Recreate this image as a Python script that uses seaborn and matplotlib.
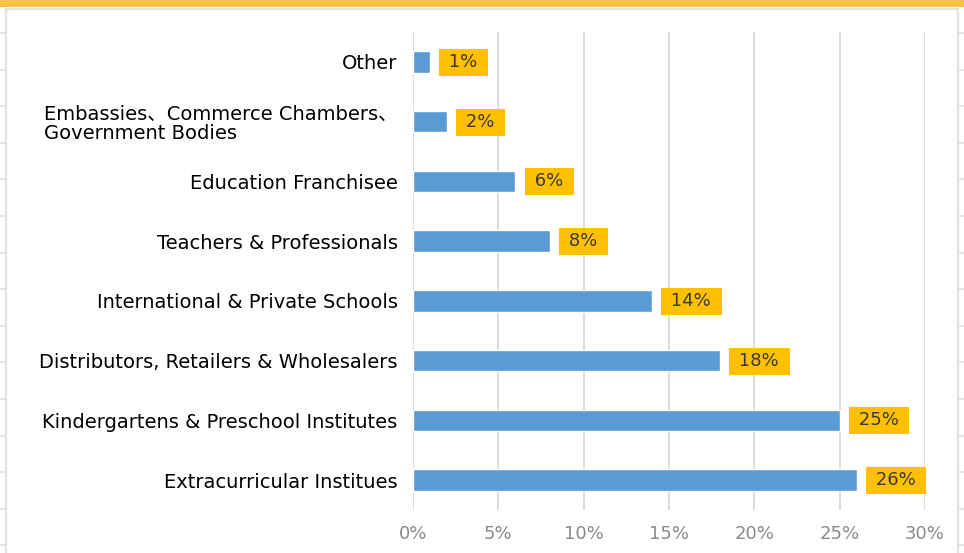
import numpy as np
import matplotlib
matplotlib.use("Agg")
import matplotlib.pyplot as plt
import seaborn as sns
from matplotlib.patches import Rectangle
from matplotlib.lines import Line2D

categories = [
    "Other",
    "Embassies、Commerce Chambers、\nGovernment Bodies",
    "Education Franchisee",
    "Teachers & Professionals",
    "International & Private Schools",
    "Distributors, Retailers & Wholesalers",
    "Kindergartens & Preschool Institutes",
    "Extracurricular Institues",
]
values = [1, 2, 6, 8, 14, 18, 25, 26]
x_ticks = [0, 5, 10, 15, 20, 25, 30]
x_tick_labels = ["0%", "5%", "10%", "15%", "20%", "25%", "30%"]

sns.set_theme(style="white")
plt.rcParams["font.family"] = ["DejaVu Sans", "Noto Sans CJK SC"]

W, H = 964, 553
fig = plt.figure(figsize=(W / 100, H / 100), dpi=100)
fig.patch.set_facecolor("white")

# decorative screenshot frame
fig.patches.append(Rectangle((0, 1 - 7 / H), 1, 7 / H, transform=fig.transFigure,
                             facecolor="#F5C244", edgecolor="none", zorder=0))
fig.patches.append(Rectangle((6 / W, -0.01), (958 - 6) / W, 1 - 9 / H + 0.01,
                             transform=fig.transFigure, facecolor="none",
                             edgecolor="#e2e2e2", lw=1.6, zorder=0))
for yy in np.arange(33, H, 36.6):
    fig.lines.append(Line2D([0, 6 / W], [1 - yy / H] * 2, transform=fig.transFigure,
                            color="#e0e0e0", lw=1.2))
    fig.lines.append(Line2D([958 / W, 964 / W], [1 - yy / H] * 2, transform=fig.transFigure,
                            color="#e0e0e0", lw=1.2))

ax = fig.add_axes([413 / W, 1 - 510 / H, (925 - 413) / W, (510 - 32) / H])
sns.barplot(x=values, y=categories, orient="h", color="#5B9BD5", saturation=1,
            width=0.36, ax=ax, zorder=3)

ax.set_xlim(0, 30)
ax.set_ylim(len(categories) - 0.5, -0.5)
ax.set_xticks(x_ticks)
ax.set_xticklabels(x_tick_labels)
ax.grid(axis="x", color="#dcdcdc", lw=1.4)
ax.set_axisbelow(True)
for s in ax.spines.values():
    s.set_visible(False)
ax.set_xlabel("")
ax.set_ylabel("")
ax.tick_params(axis="x", length=0, pad=11, labelsize=13, labelcolor="#8a8a8a")
ax.tick_params(axis="y", length=0, pad=11, labelsize=14, labelcolor="#000000")
for lab in ax.get_yticklabels():
    lab.set_multialignment("left")
    lab.set_linespacing(1.05)

for i, v in enumerate(values):
    ax.annotate(f" {v}% ", xy=(v, i), xytext=(9.5, 0), textcoords="offset points",
                ha="left", va="center", fontsize=13, color="#3a3a3a",
                bbox=dict(boxstyle="square,pad=0.22", facecolor="#FFC000",
                          edgecolor="#FFC000", lw=0.8), zorder=4)

fig.savefig("out.png", dpi=100)
